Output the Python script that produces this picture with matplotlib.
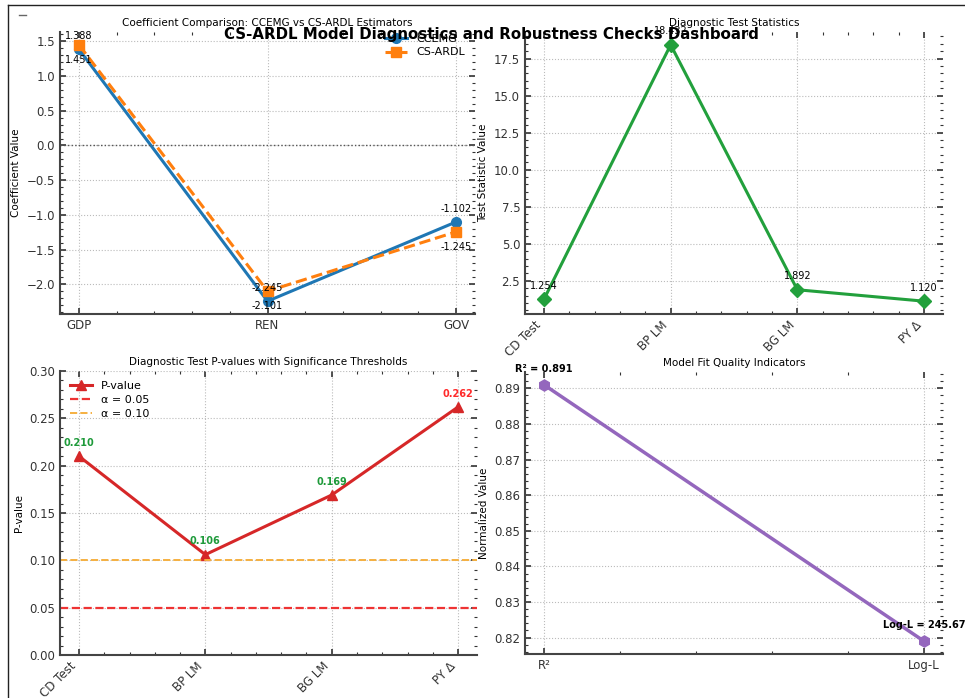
import matplotlib.pyplot as plt
from matplotlib.ticker import AutoMinorLocator
from matplotlib.lines import Line2D

# coefficient panel
variables = ["GDP", "REN", "GOV"]
ccemg = [1.388, -2.245, -1.102]
csardl = [1.451, -2.101, -1.245]

# diagnostic statistics
tests = ["CD Test", "BP LM", "BG LM", "PY Δ"]
stats = [1.254, 18.432, 1.892, 1.120]
pvalues = [0.210, 0.106, 0.169, 0.262]
pcolors = ["#1e9a3a", "#1e9a3a", "#1e9a3a", "#ff2a2a"]

# model fit
fit_names = ["R²", "Log-L"]
fit_values = [0.891, 0.819]
fit_labels = ["R² = 0.891", "Log-L = 245.67"]

W, H = 965, 698
fig = plt.figure(figsize=(W / 100, H / 100), dpi=100)


def box(x0, y0, x1, y1):  # pixel box -> figure fraction
    return [x0 / W, 1 - y1 / H, (x1 - x0) / W, (y1 - y0) / H]


def style(ax):
    for s in ["top", "right"]:
        ax.spines[s].set_visible(False)
    for s in ["left", "bottom"]:
        ax.spines[s].set_color("#444444")
        ax.spines[s].set_linewidth(1.5)
    ax.xaxis.set_minor_locator(AutoMinorLocator(5))
    ax.yaxis.set_minor_locator(AutoMinorLocator(5))
    ax.tick_params(which="both", direction="in", top=True, right=True,
                   labelsize=8.5, colors="#333333")
    ax.tick_params(which="major", length=4, width=1.2)
    ax.tick_params(which="minor", length=2, width=0.8)
    ax.grid(True, which="major", linestyle=":", color="#bbbbbb", linewidth=0.8)
    ax.set_axisbelow(True)


# top left
ax1 = fig.add_axes(box(60, 32, 475, 314))
x = range(len(variables))
ax1.plot(x, ccemg, "-o", color="#1f77b4", lw=2.2, ms=7, label="CCEMG")
ax1.plot(x, csardl, "--s", color="#ff7f0e", lw=2.2, ms=7, label="CS-ARDL")
ax1.axhline(0, color="#555555", linestyle=":", lw=1)
for i in x:
    ax1.annotate(f"{ccemg[i]:.3f}", (i, ccemg[i]), xytext=(0, 6), textcoords="offset points",
                 ha="center", va="bottom", fontsize=7)
    ax1.annotate(f"{csardl[i]:.3f}", (i, csardl[i]), xytext=(0, -7), textcoords="offset points",
                 ha="center", va="top", fontsize=7)
ax1.set_xticks(list(x))
ax1.set_xticklabels(variables)
ax1.set_ylabel("Coefficient Value", fontsize=7.5)
ax1.set_title("Coefficient Comparison: CCEMG vs CS-ARDL Estimators", fontsize=7.5, pad=4)
ax1.legend(loc="upper right", bbox_to_anchor=(1.0, 1.03), frameon=False, fontsize=8,
           labelspacing=0.35)
style(ax1)

# top right
ax2 = fig.add_axes(box(525, 32, 943, 314))
x = range(len(tests))
ax2.plot(x, stats, "-D", color="#22a03c", lw=2.2, ms=7)
for i in x:
    ax2.annotate(f"{stats[i]:.3f}", (i, stats[i]), xytext=(0, 6), textcoords="offset points",
                 ha="center", va="bottom", fontsize=7)
ax2.set_xticks(list(x))
ax2.set_xticklabels(tests, rotation=45, ha="right")
ax2.set_ylabel("Test Statistic Value", fontsize=7.5)
ax2.set_title("Diagnostic Test Statistics", fontsize=7.5, pad=4)
style(ax2)

# bottom left
ax3 = fig.add_axes(box(60, 371, 477, 655))
ax3.plot(x, pvalues, "-^", color="#d62728", lw=2.2, ms=7, label="P-value")
ax3.axhline(0.05, color="#ee3333", linestyle="--", lw=1.6, label="α = 0.05")
ax3.axhline(0.10, color="#f5b041", linestyle="--", lw=1.4, label="α = 0.10")
for i in x:
    ax3.annotate(f"{pvalues[i]:.3f}", (i, pvalues[i]), xytext=(0, 6), textcoords="offset points",
                 ha="center", va="bottom", fontsize=7, fontweight="bold", color=pcolors[i])
ax3.set_ylim(0, 0.30)
ax3.set_xticks(list(x))
ax3.set_xticklabels(tests, rotation=45, ha="right")
ax3.set_ylabel("P-value", fontsize=7.5)
ax3.set_title("Diagnostic Test P-values with Significance Thresholds", fontsize=7.5, pad=4)
ax3.legend(loc="upper left", frameon=False, fontsize=8, labelspacing=0.35)
style(ax3)

# bottom right
ax4 = fig.add_axes(box(525, 372, 943, 654))
x = range(len(fit_names))
ax4.plot(x, fit_values, "-h", color="#9467bd", lw=2.5, ms=8)
for i in x:
    ax4.annotate(fit_labels[i], (i, fit_values[i]), xytext=(0, 8), textcoords="offset points",
                 ha="center", va="bottom", fontsize=7, fontweight="bold")
ax4.set_xticks(list(x))
ax4.set_xticklabels(fit_names)
ax4.set_ylabel("Normalized Value", fontsize=7.5)
ax4.set_title("Model Fit Quality Indicators", fontsize=7.5, pad=4)
style(ax4)

fig.text(491 / W, 1 - 35 / H, "CS-ARDL Model Diagnostics and Robustness Checks Dashboard",
         ha="center", va="center", fontsize=10.8, fontweight="bold")

# page frame
fig.add_artist(Line2D([8 / W, 1], [1 - 5 / H, 1 - 5 / H], color="#222222", lw=1))
fig.add_artist(Line2D([8 / W, 8 / W], [0, 1 - 5 / H], color="#222222", lw=1))
fig.add_artist(Line2D([19 / W, 26 / W], [1 - 15 / H, 1 - 15 / H], color="#666666", lw=1))

fig.savefig("out.png", dpi=100)
